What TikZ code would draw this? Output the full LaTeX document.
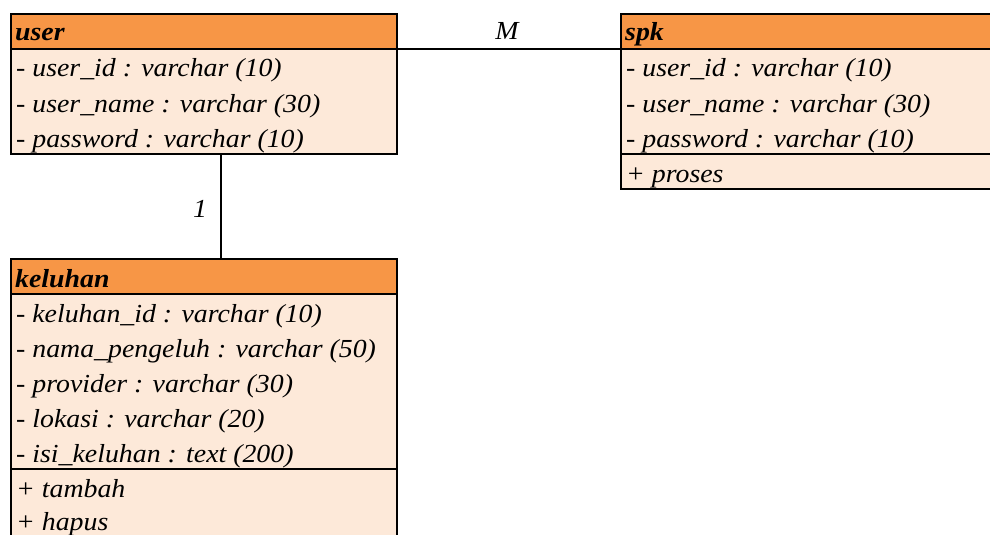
\documentclass[tikz,border=0pt]{standalone}
\usepackage{fontspec}
\setmainfont[FakeStretch=1.07]{Liberation Serif}
\definecolor{hdrorange}{HTML}{F79646}
\definecolor{bodypeach}{HTML}{FDE9D9}
\begin{document}
\begin{tikzpicture}[x=1pt,y=-1pt,
 box/.style={draw=black,line width=2.2pt,fill=bodypeach,inner sep=0,outer sep=0,anchor=north west},
 hdr/.style={draw=black,line width=2.2pt,fill=hdrorange,inner sep=0,outer sep=0,anchor=north west,minimum height=35pt},
 attr/.style={anchor=base west,inner sep=0,font=\fontsize{26}{30}\selectfont\itshape},
 title/.style={anchor=base west,inner sep=0,font=\fontsize{26}{30}\selectfont\bfseries\itshape},
 conn/.style={draw=black,line width=1.4pt},
 mult/.style={anchor=base,inner sep=0,font=\fontsize{26}{30}\selectfont\itshape}]
\useasboundingbox (0,0) rectangle (990,535);
\fill[white] (0,0) rectangle (990,535);
\clip (0,0) rectangle (990,535);

% user
\node[box,minimum width=386pt,minimum height=105pt] (userattr) at (11,49) {};
\node[hdr,minimum width=386pt] (userhead) at (11,14) {};
\node[title] (usert) at (15,41) {user};
\node[attr] (u1) at (16,77) {- user\_id : varchar (10)};
\node[attr] (u2) at (16,112) {- user\_name : varchar (30)};
\node[attr] (u3) at (16,147) {- password : varchar (10)};

% spk
\node[box,minimum width=379pt,minimum height=105pt] (spkattr) at (621,49) {};
\node[box,minimum width=379pt,minimum height=35pt] (spkops) at (621,154) {};
\node[hdr,minimum width=379pt] (spkhead) at (621,14) {};
\node[title] (spkt) at (625,41) {spk};
\node[attr] (s1) at (626,77) {- user\_id : varchar (10)};
\node[attr] (s2) at (626,112) {- user\_name : varchar (30)};
\node[attr] (s3) at (626,147) {- password : varchar (10)};
\node[attr] (s4) at (626,182) {+ proses};

% keluhan
\node[box,minimum width=386pt,minimum height=175pt] (kelattr) at (11,294) {};
\node[box,minimum width=386pt,minimum height=80pt] (kelops) at (11,469) {};
\node[hdr,minimum width=386pt] (kelhead) at (11,259) {};
\node[title] (kelt) at (15,287) {keluhan};
\node[attr] (k1) at (16,322) {- keluhan\_id : varchar (10)};
\node[attr] (k2) at (16,357) {- nama\_pengeluh : varchar (50)};
\node[attr] (k3) at (16,392) {- provider : varchar (30)};
\node[attr] (k4) at (16,427) {- lokasi : varchar (20)};
\node[attr] (k5) at (16,462) {- isi\_keluhan : text (200)};
\node[attr] (k6) at (16,497) {+ tambah};
\node[attr] (k7) at (16,530) {+ hapus};

% connectors
\coordinate (vx) at (221,0);
\draw[conn] (userhead.south east) -- (spkhead.south west);
\draw[conn] (userattr.south -| vx) -- (kelhead.north -| vx);
\node[mult] (mM) at (507,40) {M};
\node[mult] (m1) at (200,217) {1};
\end{tikzpicture}
\end{document}
